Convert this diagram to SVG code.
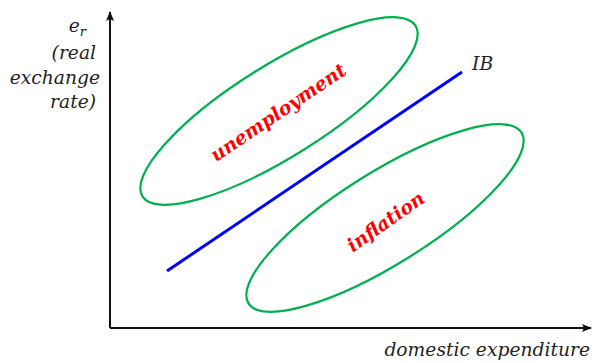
<svg xmlns="http://www.w3.org/2000/svg" width="596" height="363" viewBox="0 0 596 363">
<style>
.lbl{font-family:"DejaVu Serif","Liberation Serif",serif;font-style:italic;font-size:18.7px;fill:#222}
.reg{font-family:"DejaVu Serif","Liberation Serif",serif;font-style:italic;font-weight:bold;font-size:19px;fill:#ff0000}
.ell{fill:none;stroke:#00b050;stroke-width:2.2}
.axis{stroke:#111;stroke-width:2;fill:none}
</style>
<defs>
<marker id="ah" markerWidth="10" markerHeight="8" refX="9" refY="4" orient="auto" markerUnits="userSpaceOnUse">
<path d="M0,0 L10,4 L0,8 L2,4 Z" fill="#111"/>
</marker>
</defs>
<g id="connectors">
<path class="axis" d="M110,328 L110,12" marker-end="url(#ah)"/>
<path class="axis" d="M110,328 L591,328" marker-end="url(#ah)"/>
</g>
<g id="unemployment">
<ellipse class="ell" cx="279" cy="111" rx="161" ry="46" transform="rotate(-32 279 111)"/>
<text class="reg" x="278" y="119" text-anchor="middle" transform="rotate(-34 278 112)">unemployment</text>
</g>
<g id="inflation">
<ellipse class="ell" cx="385" cy="218" rx="161" ry="46" transform="rotate(-32 385 218)"/>
<text class="reg" x="386" y="228" text-anchor="middle" transform="rotate(-35 386 222)">inflation</text>
</g>
<g id="IB">
<line x1="167" y1="271" x2="462" y2="72" stroke="#0000ff" stroke-width="3"/>
<text class="lbl" x="472" y="70">IB</text>
</g>
<g id="yaxis-label">
<text class="lbl" x="86" y="32" text-anchor="end">e<tspan font-size="13" dy="4">r</tspan></text>
<text class="lbl" x="96" y="59" text-anchor="end">(real</text>
<text class="lbl" x="100" y="84" text-anchor="end">exchange</text>
<text class="lbl" x="96" y="108" text-anchor="end">rate)</text>
</g>
<g id="xaxis-label">
<text class="lbl" x="590" y="356" text-anchor="end">domestic expenditure</text>
</g>
</svg>
